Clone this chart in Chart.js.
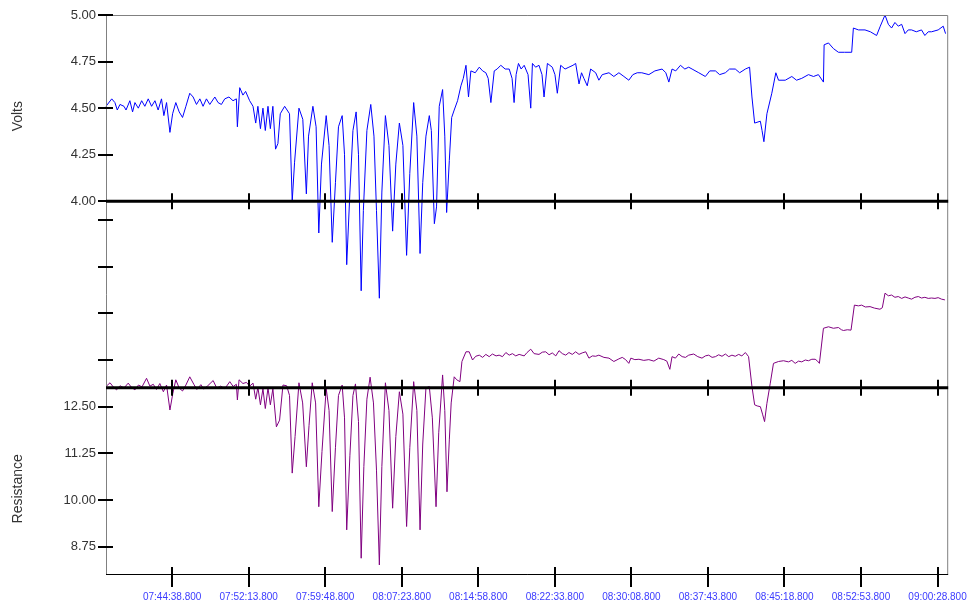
<!DOCTYPE html>
<html>
<head>
<meta charset="utf-8">
<title>Volts / Resistance</title>
<script src="https://cdn.jsdelivr.net/npm/chart.js@4.4.1/dist/chart.umd.min.js"></script>
<style>
  html, body { margin: 0; padding: 0; background: #fff; }
  #wrap { width: 971px; height: 603px; }
</style>
</head>
<body>
<div id="wrap"><canvas id="chart" width="971" height="603"></canvas></div>
<script>
// time of the first sample and of the right edge of the plot
const START = '07:38:05.500';
const AXIS_END = '09:01:32.100';

const tickLabels = [
  '07:44:38.800', '07:52:13.800', '07:59:48.800', '08:07:23.800', '08:14:58.800', '08:22:33.800',
  '08:30:08.800', '08:37:43.800', '08:45:18.800', '08:52:53.800', '09:00:28.800',
];
const voltTicks = [4.0, 4.25, 4.5, 4.75, 5.0];
const resTicks = [8.75, 10.0, 11.25, 12.5, 13.75, 15.0, 16.25, 17.5];

// seconds after START
const voltTimes = [
  0, 34, 53, 67, 83, 107, 119, 142, 158, 172,
  192, 212, 231, 251, 271, 291, 310, 330, 344, 360,
  380, 396, 415, 435, 455, 475, 498, 518, 538, 558,
  577, 597, 617, 647, 666, 686, 706, 731, 755, 775,
  781, 795, 814, 830, 854, 874, 890, 903, 918, 933,
  947, 963, 977, 992, 1008, 1022, 1036, 1062, 1091, 1107,
  1121, 1147, 1170, 1191, 1204, 1230, 1249, 1265, 1281, 1309,
  1326, 1345, 1364, 1382, 1404, 1418, 1431, 1450, 1468, 1487,
  1501, 1517, 1530, 1551, 1574, 1593, 1608, 1625, 1640, 1661,
  1682, 1704, 1723, 1744, 1765, 1787, 1806, 1829, 1848, 1867,
  1883, 1902, 1922, 1934, 1952, 1965, 1981, 2001, 2014, 2025,
  2041, 2055, 2070, 2090, 2110, 2124, 2140, 2155, 2169, 2195,
  2219, 2239, 2258, 2272, 2288, 2308, 2325, 2347, 2373, 2397,
  2414, 2426, 2438, 2452, 2468, 2486, 2509, 2525, 2535, 2554,
  2574, 2592, 2604, 2624, 2653, 2669, 2683, 2703, 2729, 2752,
  2776, 2792, 2812, 2827, 2841, 2861, 2881, 2911, 2930, 2950,
  2990, 3019, 3049, 3079, 3108, 3132, 3158, 3185, 3227, 3263,
  3306, 3328, 3346, 3365, 3387, 3415, 3441, 3464, 3484, 3524,
  3563, 3589, 3623, 3648, 3682, 3707, 3741, 3767, 3801, 3826,
  3840, 3856, 3890, 3900, 3911, 3929, 3958, 3982, 3998, 4038,
  4077, 4105, 4136, 4176, 4206, 4235, 4265, 4269, 4295, 4324,
  4354, 4390, 4433, 4443, 4473, 4512, 4544, 4581, 4603, 4631,
  4651, 4670, 4690, 4710, 4730, 4750, 4769, 4789, 4817, 4848,
  4868, 4888, 4908, 4947, 4977, 4991,
];
const volts = [
  4.51, 4.55, 4.53, 4.49, 4.52, 4.51, 4.49, 4.54, 4.48, 4.53,
  4.50, 4.54, 4.51, 4.55, 4.51, 4.54, 4.49, 4.55, 4.46, 4.53,
  4.37, 4.47, 4.53, 4.48, 4.45, 4.51, 4.58, 4.56, 4.52, 4.55,
  4.51, 4.55, 4.52, 4.56, 4.53, 4.52, 4.55, 4.56, 4.54, 4.55,
  4.40, 4.61, 4.57, 4.59, 4.54, 4.51, 4.42, 4.51, 4.39, 4.50,
  4.38, 4.51, 4.39, 4.51, 4.28, 4.31, 4.47, 4.51, 4.47, 4.00,
  4.21, 4.50, 4.44, 4.04, 4.35, 4.51, 4.40, 3.83, 4.20, 4.46,
  4.30, 3.78, 4.10, 4.40, 4.46, 4.25, 3.66, 4.05, 4.38, 4.48,
  4.25, 3.52, 3.95, 4.38, 4.52, 4.35, 3.95, 3.48, 4.05, 4.46,
  4.30, 3.84, 4.20, 4.42, 4.30, 3.71, 4.15, 4.53, 4.35, 3.72,
  4.10, 4.35, 4.46, 4.38, 3.88, 3.97, 4.51, 4.60, 4.35, 3.94,
  4.22, 4.45, 4.49, 4.54, 4.62, 4.66, 4.73, 4.56, 4.70, 4.69,
  4.72, 4.70, 4.69, 4.66, 4.53, 4.70, 4.71, 4.73, 4.71, 4.71,
  4.66, 4.53, 4.68, 4.74, 4.71, 4.73, 4.68, 4.50, 4.74, 4.72,
  4.73, 4.68, 4.56, 4.74, 4.72, 4.68, 4.58, 4.73, 4.71, 4.72,
  4.73, 4.74, 4.63, 4.69, 4.66, 4.62, 4.71, 4.69, 4.65, 4.68,
  4.69, 4.67, 4.69, 4.67, 4.65, 4.68, 4.69, 4.69, 4.68, 4.70,
  4.71, 4.69, 4.64, 4.71, 4.70, 4.73, 4.71, 4.72, 4.71, 4.69,
  4.67, 4.70, 4.70, 4.68, 4.69, 4.71, 4.71, 4.69, 4.71, 4.72,
  4.56, 4.42, 4.43, 4.38, 4.32, 4.47, 4.58, 4.69, 4.65, 4.65,
  4.67, 4.65, 4.66, 4.68, 4.67, 4.68, 4.64, 4.84, 4.85, 4.82,
  4.80, 4.80, 4.80, 4.93, 4.92, 4.92, 4.91, 4.89, 4.94, 5.00,
  4.95, 4.93, 4.96, 4.94, 4.95, 4.90, 4.92, 4.92, 4.91, 4.92,
  4.89, 4.91, 4.91, 4.92, 4.94, 4.90,
];

const resTimes = [
  0, 24, 43, 63, 83, 107, 132, 151, 172, 193,
  214, 241, 261, 281, 300, 320, 341, 360, 380, 397,
  415, 435, 455, 475, 498, 522, 540, 564, 581, 605,
  637, 658, 682, 706, 736, 756, 775, 781, 791, 814,
  835, 854, 874, 890, 903, 918, 933, 947, 963, 977,
  992, 1013, 1032, 1052, 1074, 1091, 1107, 1124, 1147, 1169,
  1191, 1207, 1226, 1246, 1265, 1284, 1309, 1326, 1345, 1364,
  1382, 1404, 1418, 1431, 1450, 1468, 1483, 1501, 1517, 1533,
  1551, 1570, 1590, 1608, 1625, 1640, 1661, 1682, 1704, 1723,
  1744, 1765, 1787, 1806, 1829, 1848, 1867, 1883, 1902, 1922,
  1940, 1962, 1978, 2001, 2014, 2027, 2041, 2052, 2070, 2085,
  2104, 2116, 2140, 2159, 2179, 2198, 2219, 2239, 2258, 2278,
  2297, 2319, 2337, 2357, 2377, 2397, 2416, 2436, 2456, 2486,
  2503, 2525, 2545, 2574, 2594, 2614, 2634, 2653, 2674, 2693,
  2713, 2733, 2752, 2772, 2792, 2812, 2831, 2852, 2871, 2891,
  2911, 2930, 2960, 2990, 3019, 3049, 3069, 3089, 3108, 3120,
  3144, 3168, 3197, 3227, 3257, 3286, 3316, 3334, 3352, 3365,
  3385, 3405, 3425, 3445, 3464, 3494, 3518, 3543, 3563, 3583,
  3603, 3623, 3642, 3662, 3682, 3702, 3721, 3741, 3761, 3780,
  3801, 3820, 3840, 3856, 3871, 3890, 3903, 3915, 3929, 3949,
  3968, 3998, 4028, 4057, 4077, 4097, 4117, 4136, 4157, 4176,
  4196, 4216, 4230, 4241, 4265, 4295, 4324, 4354, 4372, 4384,
  4407, 4429, 4449, 4473, 4492, 4514, 4542, 4568, 4601, 4615,
  4631, 4651, 4670, 4690, 4710, 4730, 4750, 4769, 4789, 4809,
  4829, 4848, 4868, 4888, 4908, 4928, 4947, 4967, 4987,
];
const resistance = [
  13.04, 13.14, 13.03, 12.95, 13.06, 13.00, 13.13, 13.02, 12.95, 13.08,
  13.03, 13.26, 13.05, 13.10, 12.96, 13.12, 12.90, 13.08, 12.41, 12.85,
  13.22, 13.00, 12.92, 13.08, 13.30, 13.10, 12.96, 13.09, 12.97, 13.06,
  13.20, 13.00, 13.05, 12.98, 13.17, 13.04, 13.10, 12.68, 13.22, 13.12,
  13.15, 13.05, 13.13, 12.70, 13.02, 12.55, 12.98, 12.45, 13.00, 12.55,
  12.98, 11.96, 12.14, 13.08, 13.06, 12.80, 10.72, 11.70, 13.14, 12.60,
  10.89, 12.00, 13.14, 12.60, 9.82, 11.30, 12.99, 12.40, 9.69, 11.40,
  12.80, 13.08, 12.20, 9.20, 11.20, 12.80, 13.11, 12.10, 8.44, 10.90,
  12.70, 13.29, 12.60, 10.80, 8.26, 10.90, 13.14, 12.40, 9.78, 11.70,
  12.90, 12.30, 9.29, 11.40, 13.17, 12.40, 9.20, 11.50, 13.00, 13.04,
  12.20, 9.82, 11.80, 13.35, 12.40, 10.22, 11.61, 12.60, 13.30, 13.22,
  13.17, 13.71, 13.97, 13.97, 13.75, 13.85, 13.88, 13.82, 13.90, 13.84,
  13.91, 13.86, 13.88, 13.84, 13.95, 13.88, 13.92, 13.86, 13.90, 13.86,
  13.95, 14.04, 13.92, 13.90, 13.96, 13.97, 13.89, 13.94, 13.86, 14.00,
  13.92, 13.88, 13.95, 13.90, 13.97, 13.90, 13.94, 13.97, 13.80, 13.86,
  13.85, 13.88, 13.82, 13.80, 13.71, 13.78, 13.82, 13.76, 13.66, 13.80,
  13.76, 13.77, 13.74, 13.76, 13.72, 13.80, 13.76, 13.72, 13.50, 13.84,
  13.80, 13.91, 13.84, 13.82, 13.88, 13.91, 13.84, 13.80, 13.86, 13.88,
  13.82, 13.84, 13.89, 13.85, 13.91, 13.84, 13.88, 13.85, 13.90, 13.86,
  13.95, 13.84, 13.04, 12.55, 12.52, 12.50, 12.30, 12.10, 12.59, 13.13,
  13.66, 13.71, 13.73, 13.70, 13.74, 13.66, 13.72, 13.70, 13.75, 13.73,
  13.77, 13.77, 13.72, 13.66, 14.60, 14.64, 14.60, 14.62, 14.56, 14.54,
  14.56, 14.55, 15.22, 15.20, 15.22, 15.17, 15.18, 15.14, 15.11, 15.15,
  15.54, 15.47, 15.49, 15.43, 15.45, 15.40, 15.44, 15.41, 15.38, 15.43,
  15.45, 15.41, 15.43, 15.40, 15.41, 15.40, 15.42, 15.38, 15.36,
];

const FONT = '"Liberation Sans", Arial, sans-serif';

const toSec = (s) => {
  const [h, m, sec] = s.split(':');
  return (+h) * 3600 + (+m) * 60 + parseFloat(sec);
};
const t0 = toSec(START);

// frame, band separators, cross-shaped tick marks and axis titles
const framePlugin = {
  id: 'frame',
  afterDatasetsDraw(chart) {
    const { ctx, chartArea: a, scales: { x, yV, yR } } = chart;
    const band = (a.bottom - a.top) / 3;
    const seps = [a.top + band, a.top + 2 * band];
    ctx.save();

    ctx.strokeStyle = '#808080';
    ctx.lineWidth = 1;
    ctx.beginPath();
    ctx.moveTo(a.left + 0.5, a.bottom);
    ctx.lineTo(a.left + 0.5, a.top + 0.5);
    ctx.lineTo(a.right - 0.5, a.top + 0.5);
    ctx.lineTo(a.right - 0.5, a.bottom);
    ctx.stroke();

    ctx.strokeStyle = '#000';
    ctx.beginPath();
    ctx.moveTo(a.left, a.bottom + 0.5);
    ctx.lineTo(a.right, a.bottom + 0.5);
    ctx.stroke();

    ctx.lineWidth = 3;
    seps.forEach((y) => {
      ctx.beginPath();
      ctx.moveTo(a.left, y);
      ctx.lineTo(a.right, y);
      ctx.stroke();
    });

    ctx.lineWidth = 2;
    const vTick = (px, y1, y2) => {
      ctx.beginPath();
      ctx.moveTo(px, y1);
      ctx.lineTo(px, y2);
      ctx.stroke();
    };
    x.ticks.forEach((t) => {
      const px = Math.round(x.getPixelForValue(t.value));
      seps.forEach((y) => vTick(px, y - 8, y + 8));
      vTick(px, a.bottom - 7, a.bottom + 13);
    });

    const hTick = (py) => {
      ctx.beginPath();
      ctx.moveTo(a.left - 8, py);
      ctx.lineTo(a.left + 7, py);
      ctx.stroke();
    };
    yV.ticks.forEach((t) => hTick(Math.round(yV.getPixelForValue(t.value))));
    yR.ticks.forEach((t) => {
      const py = yR.getPixelForValue(t.value);
      if (py > seps[0] + 5) hTick(Math.round(py));
    });

    ctx.fillStyle = '#333';
    ctx.font = `14px ${FONT}`;
    ctx.textAlign = 'center';
    ctx.textBaseline = 'middle';
    [['Volts', a.top + band / 2 + 8], ['Resistance', seps[1] + band / 2 + 8]].forEach(([txt, cy]) => {
      ctx.save();
      ctx.translate(18, cy);
      ctx.rotate(-Math.PI / 2);
      ctx.fillText(txt, 0, 0);
      ctx.restore();
    });
    ctx.restore();
  },
};

const yTicks = {
  autoSkip: false,
  padding: 2,
  color: '#333',
  font: { size: 13, family: FONT },
};

// eslint-disable-next-line no-undef
new Chart(document.getElementById('chart'), {
  type: 'line',
  data: {
    datasets: [
      {
        label: 'Volts',
        data: voltTimes.map((t, i) => ({ x: t, y: volts[i] })),
        yAxisID: 'yV',
        borderColor: '#0000ff',
        borderWidth: 1,
        pointRadius: 0,
        tension: 0,
        fill: false,
        clip: false,
      },
      {
        label: 'Resistance',
        data: resTimes.map((t, i) => ({ x: t, y: resistance[i] })),
        yAxisID: 'yR',
        borderColor: '#800080',
        borderWidth: 1,
        pointRadius: 0,
        tension: 0,
        fill: false,
        clip: false,
      },
    ],
  },
  options: {
    responsive: false,
    animation: false,
    layout: { padding: { top: 15, right: 21, left: 0, bottom: 0 } },
    plugins: {
      legend: { display: false },
      tooltip: { enabled: false },
    },
    scales: {
      x: {
        type: 'linear',
        min: 0,
        max: toSec(AXIS_END) - t0,
        grid: { display: false, tickLength: 13 },
        border: { display: false },
        afterBuildTicks: (s) => { s.ticks = tickLabels.map((l) => ({ value: toSec(l) - t0 })); },
        afterFit: (s) => { s.height = 29; },
        ticks: {
          autoSkip: false,
          maxRotation: 0,
          padding: 4,
          color: '#3b3bff',
          font: { size: 10, family: FONT },
          callback: (v, i) => tickLabels[i],
        },
      },
      // volts takes the top third of the left column, resistance the lower two thirds
      yV: {
        position: 'left',
        stack: 'left',
        stackWeight: 1,
        weight: 1,
        min: 4,
        max: 5,
        grid: { display: false, tickLength: 8 },
        border: { display: false },
        afterBuildTicks: (s) => { s.ticks = voltTicks.map((v) => ({ value: v })); },
        afterFit: (s) => { s.width = 106; },
        ticks: { ...yTicks, callback: (v) => v.toFixed(2) },
      },
      yR: {
        position: 'left',
        stack: 'left',
        stackWeight: 2,
        weight: 0,
        min: 8.018,
        max: 18.0,
        grid: { display: false, tickLength: 8 },
        border: { display: false },
        afterBuildTicks: (s) => { s.ticks = resTicks.map((v) => ({ value: v })); },
        afterFit: (s) => { s.width = 106; },
        ticks: { ...yTicks, callback: (v) => (v <= 12.5 ? v.toFixed(2) : '') },
      },
    },
  },
  plugins: [framePlugin],
});
</script>
</body>
</html>
